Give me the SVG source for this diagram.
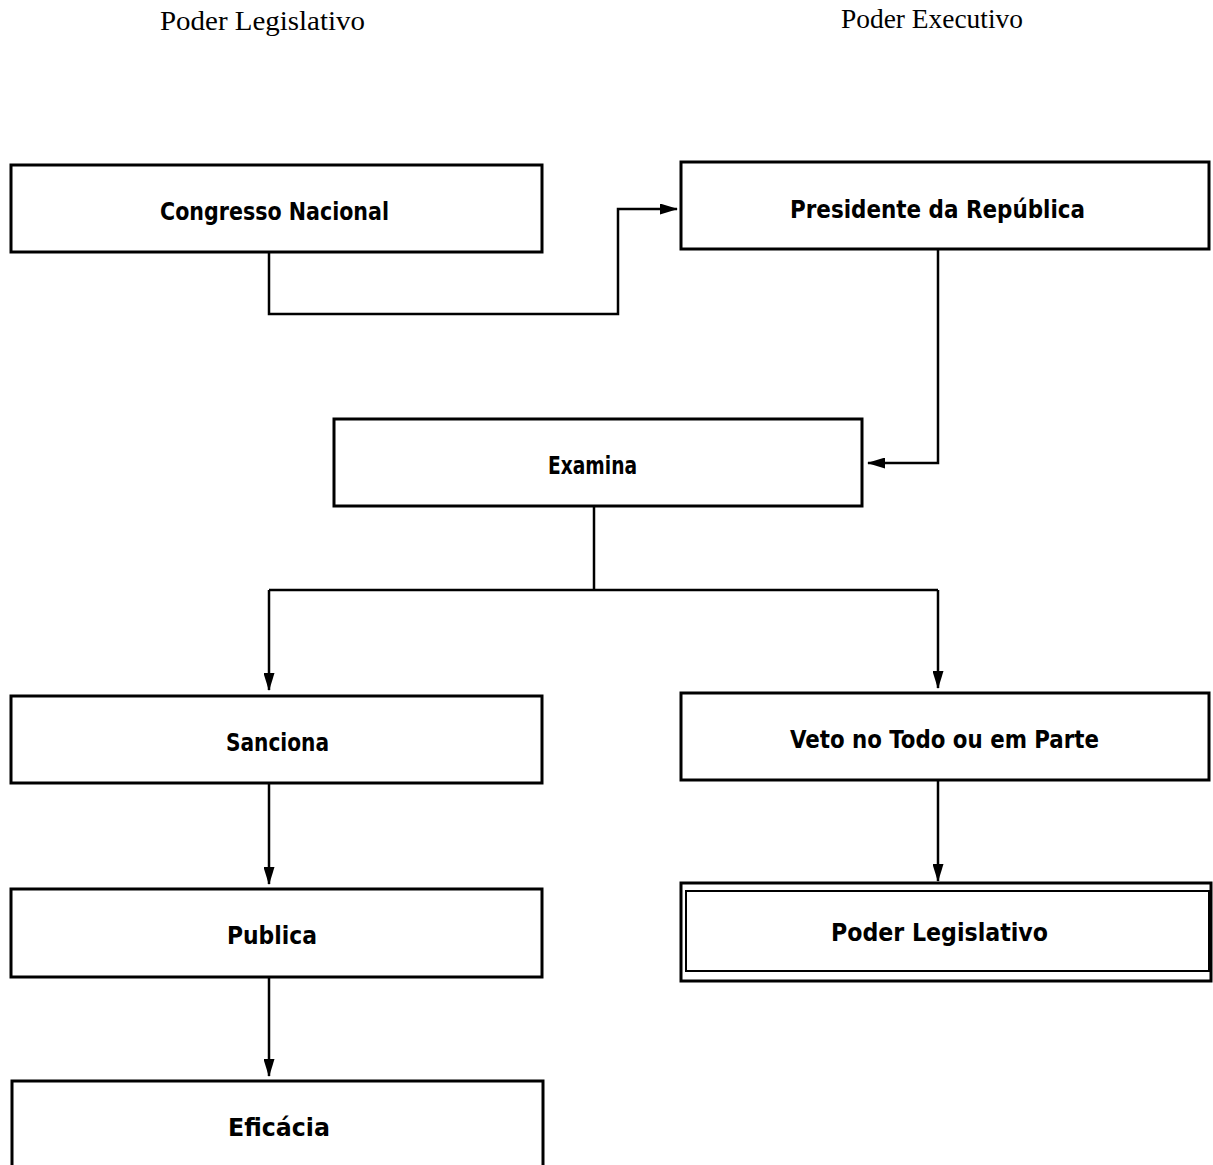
<svg xmlns="http://www.w3.org/2000/svg" width="1213" height="1165" viewBox="0 0 1213 1165">
<defs>
<style>
.box{fill:#fff;stroke:#000;stroke-width:3}
.thin{fill:none;stroke:#000;stroke-width:2}
.lbl{font-family:"DejaVu Sans Condensed","DejaVu Sans",sans-serif;font-weight:bold;font-size:25px;fill:#000;text-anchor:start}
.title{font-family:"Liberation Serif",serif;font-size:27px;fill:#000}
.edge{fill:none;stroke:#000;stroke-width:2.5}
</style>
<marker id="ah" viewBox="0 0 18 11" refX="17" refY="5.5" markerWidth="18" markerHeight="11" markerUnits="userSpaceOnUse" orient="auto">
<path d="M0,0 L18,5.5 L0,11 Z" fill="#000"/>
</marker>
</defs>
<rect width="1213" height="1165" fill="#fff"/>
<text class="title" x="160" y="30" textLength="205" lengthAdjust="spacingAndGlyphs">Poder Legislativo</text>
<text class="title" x="841" y="28" textLength="182" lengthAdjust="spacingAndGlyphs">Poder Executivo</text>
<g id="connectors">
<path class="edge" d="M269,252 V314 H618 V209 H677" marker-end="url(#ah)"/>
<path class="edge" d="M938,249 V463 H868" marker-end="url(#ah)"/>
<path class="edge" d="M594,506 V590"/>
<path class="edge" d="M269,590 H938"/>
<path class="edge" d="M269,590 V690" marker-end="url(#ah)"/>
<path class="edge" d="M938,590 V688" marker-end="url(#ah)"/>
<path class="edge" d="M269,783 V884" marker-end="url(#ah)"/>
<path class="edge" d="M269,977 V1076" marker-end="url(#ah)"/>
<path class="edge" d="M938,780 V881" marker-end="url(#ah)"/>
</g>
<g id="congresso">
<rect class="box" x="11" y="165" width="531" height="87"/>
<text class="lbl" x="160" y="220" textLength="229" lengthAdjust="spacingAndGlyphs">Congresso Nacional</text>
</g>
<g id="presidente">
<rect class="box" x="681" y="162" width="528" height="87"/>
<text class="lbl" x="790" y="218" textLength="295" lengthAdjust="spacingAndGlyphs">Presidente da República</text>
</g>
<g id="examina">
<rect class="box" x="334" y="419" width="528" height="87"/>
<text class="lbl" x="548" y="474" textLength="89" lengthAdjust="spacingAndGlyphs">Examina</text>
</g>
<g id="sanciona">
<rect class="box" x="11" y="696" width="531" height="87"/>
<text class="lbl" x="226" y="751" textLength="103" lengthAdjust="spacingAndGlyphs">Sanciona</text>
</g>
<g id="veto">
<rect class="box" x="681" y="693" width="528" height="87"/>
<text class="lbl" x="790" y="748" textLength="309" lengthAdjust="spacingAndGlyphs">Veto no Todo ou em Parte</text>
</g>
<g id="publica">
<rect class="box" x="11" y="889" width="531" height="88"/>
<text class="lbl" x="227" y="944" textLength="90" lengthAdjust="spacingAndGlyphs">Publica</text>
</g>
<g id="poder-legislativo">
<rect class="box" x="681" y="883" width="530" height="98"/>
<rect class="thin" x="686" y="891" width="523" height="80"/>
<text class="lbl" x="831" y="941" textLength="217" lengthAdjust="spacingAndGlyphs">Poder Legislativo</text>
</g>
<g id="eficacia">
<rect class="box" x="12" y="1081" width="531" height="100"/>
<text class="lbl" x="228" y="1136" textLength="102" lengthAdjust="spacingAndGlyphs">Eficácia</text>
</g>
</svg>
